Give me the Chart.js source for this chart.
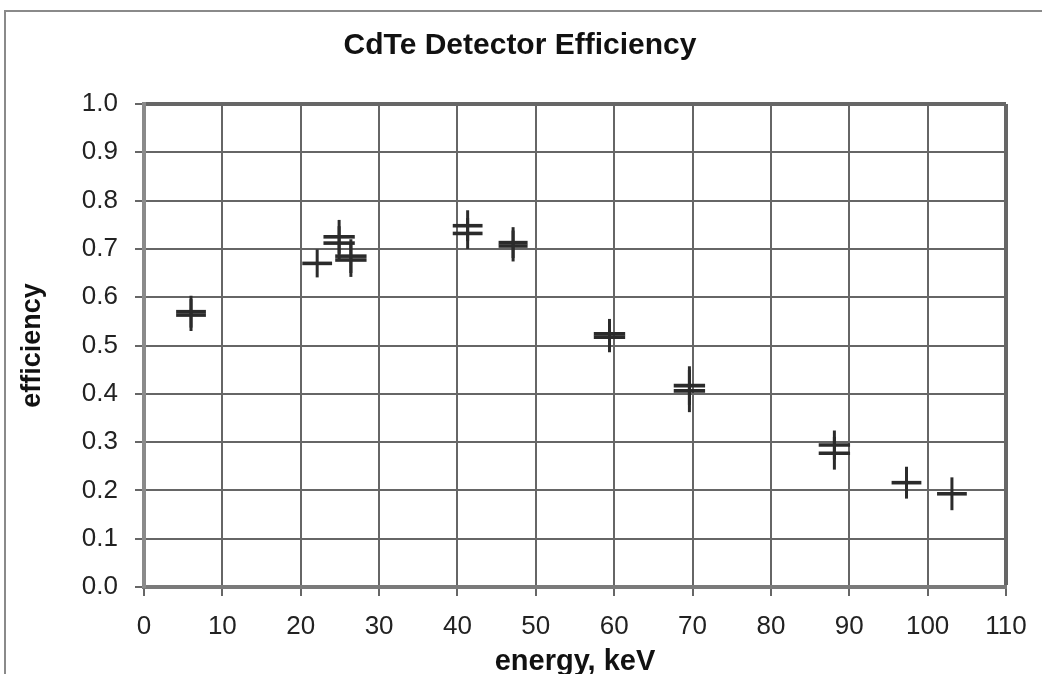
<!DOCTYPE html>
<html>
<head>
<meta charset="utf-8">
<script src="https://cdn.jsdelivr.net/npm/chart.js@4.4.1/dist/chart.umd.min.js"></script>
<style>
  html, body { margin: 0; padding: 0; background: #fff; }
  #wrap { position: relative; width: 1042px; height: 674px; overflow: hidden; }
  #frame { position: absolute; left: 4px; top: 10px; width: 1100px; height: 700px;
           border-left: 2px solid #8a8a8a; border-top: 2px solid #8a8a8a; }
  canvas { position: absolute; left: 0; top: 0; }
</style>
</head>
<body>
<div id="wrap">
  <div id="frame"></div>
  <canvas id="chart" width="1042" height="674"></canvas>
</div>
<script>
// measured points (some energies were measured twice)
const energy        = [6.0, 6.0, 22.1, 24.9, 24.9, 26.4, 26.4, 41.3, 41.3, 47.1, 47.1, 59.4, 59.4, 69.6, 69.6, 88.1, 88.1, 97.3, 103.1];
const efficiency    = [0.570, 0.563, 0.670, 0.725, 0.712, 0.685, 0.677, 0.748, 0.732, 0.713, 0.706, 0.524, 0.517, 0.417, 0.406, 0.294, 0.277, 0.216, 0.193];
const energyErr     = [1.9, 1.9, 1.9, 2.0, 2.0, 2.0, 2.0, 1.9, 1.9, 1.85, 1.85, 2.0, 2.0, 2.0, 2.0, 2.0, 2.0, 1.9, 1.9];
const efficiencyErr = [0.033, 0.033, 0.029, 0.035, 0.035, 0.035, 0.035, 0.032, 0.032, 0.032, 0.032, 0.031, 0.031, 0.040, 0.044, 0.030, 0.034, 0.033, 0.034];

const xTicks = [0, 10, 20, 30, 40, 50, 60, 70, 80, 90, 100, 110];
const yTicks = [0.0, 0.1, 0.2, 0.3, 0.4, 0.5, 0.6, 0.7, 0.8, 0.9, 1.0];

const points = energy.map((e, i) => ({
  x: e, y: efficiency[i], xErr: energyErr[i], yErr: efficiencyErr[i]
}));

// draws the x / y error bars as crosses
const errorBars = {
  id: 'errorBars',
  afterDatasetsDraw(chart) {
    const { ctx, scales: { x, y } } = chart;
    ctx.save();
    ctx.strokeStyle = '#2b2b2b';
    chart.data.datasets.forEach(ds => {
      ds.data.forEach(p => {
        const px = x.getPixelForValue(p.x);
        const py = y.getPixelForValue(p.y);
        ctx.lineWidth = 3.6;
        ctx.beginPath();
        ctx.moveTo(x.getPixelForValue(p.x - p.xErr), py);
        ctx.lineTo(x.getPixelForValue(p.x + p.xErr), py);
        ctx.stroke();
        ctx.lineWidth = 3;
        ctx.beginPath();
        ctx.moveTo(px, y.getPixelForValue(p.y - p.yErr));
        ctx.lineTo(px, y.getPixelForValue(p.y + p.yErr));
        ctx.stroke();
      });
    });
    ctx.restore();
  }
};

const font = 'Liberation Sans, Arial, sans-serif';

new Chart(document.getElementById('chart'), {
  type: 'scatter',
  data: {
    datasets: [{
      label: 'efficiency',
      data: points,
      pointRadius: 0,
      pointHoverRadius: 0
    }]
  },
  plugins: [errorBars],
  options: {
    responsive: false,
    animation: false,
    layout: { padding: { top: 12, left: 34, right: 36, bottom: 0 } },
    plugins: {
      legend: { display: false },
      tooltip: { enabled: false },
      title: {
        display: true,
        text: 'CdTe Detector Efficiency',
        color: '#111',
        font: { family: font, size: 30, weight: 'bold' },
        padding: { top: 16, bottom: 40 }
      }
    },
    scales: {
      x: {
        type: 'linear',
        min: 0, max: 110,
        afterBuildTicks: s => { s.ticks = xTicks.map(v => ({ value: v })); },
        afterFit: s => { s.height = 87; },
        ticks: {
          color: '#222',
          padding: 15,
          maxRotation: 0,
          font: { family: font, size: 26 },
          callback: v => String(v)
        },
        grid: {
          color: '#666',
          lineWidth: c => (c.tick && c.tick.value === 110 ? 4 : 2),
          tickColor: '#666',
          tickWidth: 2,
          tickLength: 9
        },
        border: { color: '#7a7a7a', width: 4 },
        title: {
          display: true,
          text: 'energy, keV',
          color: '#111',
          font: { family: font, size: 29, weight: 'bold' },
          padding: { top: 0, bottom: -5 }
        }
      },
      y: {
        type: 'linear',
        min: 0, max: 1,
        afterBuildTicks: s => { s.ticks = yTicks.map(v => ({ value: v })); },
        afterFit: s => { s.width = 110; },
        ticks: {
          color: '#222',
          padding: 17,
          font: { family: font, size: 26 },
          callback: v => Number(v).toFixed(1)
        },
        grid: {
          color: '#666',
          lineWidth: c => (c.tick && Math.abs(c.tick.value - 1) < 1e-9 ? 4 : 2),
          tickColor: '#666',
          tickWidth: 2,
          tickLength: 9
        },
        border: { color: '#8a8a8a', width: 4 },
        title: {
          display: true,
          text: 'efficiency',
          color: '#111',
          font: { family: font, size: 27, weight: 'bold' },
          padding: { top: -18, bottom: 0 }
        }
      }
    }
  }
});
</script>
</body>
</html>
